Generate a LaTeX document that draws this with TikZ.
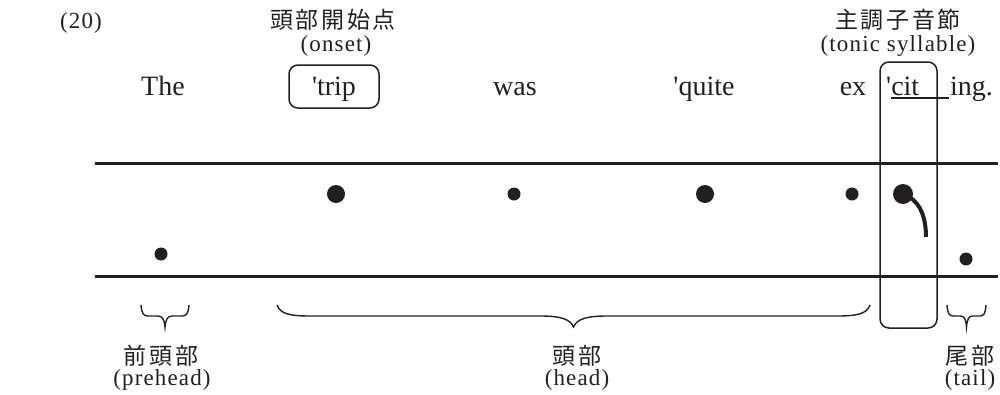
\documentclass[tikz,border=0pt]{standalone}
\usepackage{fontspec}
\newfontfamily\lat{Liberation Serif}
\newfontfamily\latsp{Liberation Serif}[LetterSpace=5]
\newfontfamily\cjk{Noto Sans CJK JP}[LetterSpace=11]
\definecolor{ink}{HTML}{231F20}
\newcommand\drawbrace[4]{%
  \pgfmathsetmacro\bxc{(#1+#2)/2}%
  \draw[bracel] (#1,#3) .. controls ({#1+0.1*#4},{#3+9}) and ({#1+0.4*#4},{#3+11}) .. ({#1+#4},{#3+11})
    -- ({\bxc-#4},{#3+11}) .. controls ({\bxc-0.4*#4},{#3+11}) and ({\bxc-0.1*#4},{#3+14}) .. (\bxc,{#3+22})
    .. controls ({\bxc+0.1*#4},{#3+14}) and ({\bxc+0.4*#4},{#3+11}) .. ({\bxc+#4},{#3+11})
    -- ({#2-#4},{#3+11}) .. controls ({#2-0.4*#4},{#3+11}) and ({#2-0.1*#4},{#3+9}) .. (#2,#3);}
\begin{document}
\begin{tikzpicture}[x=1pt,y=-1pt,
  every node/.style={text=ink},
  word/.style={font=\lat\fontsize{28}{32}\selectfont, inner sep=0pt, anchor=base},
  lab/.style={font=\latsp\fontsize{23}{27}\selectfont, inner sep=0pt, anchor=base},
  jlab/.style={font=\cjk\fontsize{23}{27}\selectfont, inner sep=0pt},
  bigdot/.style={circle, fill=ink, inner sep=0pt, minimum size=18pt},
  smalldot/.style={circle, fill=ink, inner sep=0pt, minimum size=13pt},
  staff/.style={draw=ink, line width=3pt},
  frame/.style={draw=ink, rounded corners=9pt, line width=1.5pt},
  bracel/.style={draw=ink, line width=1.4pt},
  ul/.style={draw=ink, line width=1.8pt},
  fall/.style={draw=ink, line width=4pt}]
\useasboundingbox (0,0) rectangle (1000,394);
% top labels
\node[lab] (num) at (81,28) {(20)};
\node[jlab] (onsetj) at (333,20) {頭部開始点};
\node[lab] (onsete) at (336,51) {(onset)};
\node[jlab] (tonicj) at (898,20) {主調子音節};
\node[lab] (tonice) at (898,51) {(tonic syllable)};
% words
\node[word] (w1) at (163,95) {The};
\node[word] (w2) at (334,95) {'trip};
\node[word] (w3) at (515,95) {was};
\node[word] (w4) at (704,95) {'quite};
\node[word] (w5) at (853,95) {ex};
\node[word, anchor=base west] (w6) at (886,95) {'cit};
\node[word, anchor=base west] (w7) at (950,95) {ing.};
\coordinate (ula) at (891,98);
\coordinate (ulb) at (949,98);
\draw[ul] (ula) -- (ulb);
% boxes
\draw[frame] (289,65) rectangle (379,108);
\draw[frame] (880,62) rectangle (937,328);
% staff
\coordinate (t1) at (95,163); \coordinate (t2) at (998,163);
\coordinate (b1) at (95,276); \coordinate (b2) at (998,276);
\draw[staff] (t1) -- (t2);
\draw[staff] (b1) -- (b2);
% dots
\node[smalldot] (d1) at (161,254) {};
\node[bigdot] (d2) at (336,194) {};
\node[smalldot] (d3) at (514,194) {};
\node[bigdot] (d4) at (705,194) {};
\node[smalldot] (d5) at (852,194) {};
\node[bigdot, minimum size=20pt] (d6) at (903,194) {};
\node[smalldot] (d7) at (966,259) {};
\coordinate (fend) at (926,237);
\draw[fall] (d6.center) .. controls (918,199) and (926,214) .. (fend);
% braces
\drawbrace{141}{189}{305}{7}
\drawbrace{277}{870}{305}{33}
\drawbrace{947}{986}{305}{6}
% bottom labels
\node[jlab] (pj) at (161,356) {前頭部};
\node[lab] (pe) at (162,385) {(prehead)};
\node[jlab] (hj) at (577,356) {頭部};
\node[lab] (he) at (577,385) {(head)};
\node[jlab] (tj) at (970,356) {尾部};
\node[lab] (te) at (970,385) {(tail)};
\end{tikzpicture}
\end{document}
